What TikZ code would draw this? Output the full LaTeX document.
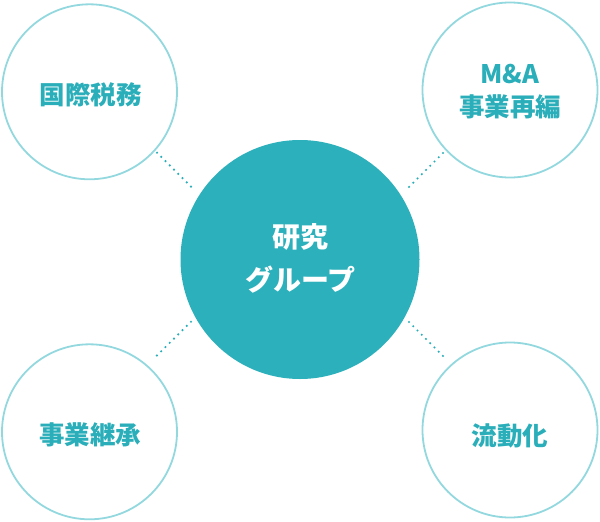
\documentclass[tikz,border=0pt]{standalone}
\usepackage{fontspec}
\setmainfont{Noto Sans CJK JP}
\definecolor{teal}{HTML}{2CB0BB}
\definecolor{ringc}{HTML}{93D8DE}
\definecolor{txtc}{HTML}{2AAEB9}
\begin{document}
\begin{tikzpicture}[x=1pt,y=-1pt,
  ring/.style={circle,draw=ringc,line width=1.8pt,minimum size=175pt,inner sep=0pt},
  hub/.style={circle,fill=teal,minimum size=239pt,inner sep=0pt},
  outertxt/.style={text=txtc,font=\fontsize{25.5}{33}\selectfont\bfseries,align=center,inner sep=0pt},
  hubtxt/.style={text=white,font=\fontsize{28}{43}\selectfont\bfseries,align=center,inner sep=0pt},
  dots/.style={draw=txtc,line width=2.4pt,line cap=round,dash pattern=on 0pt off 6pt}]
\useasboundingbox (0,0) rectangle (600,522);
\node[hub] (c) at (300,259.5) {};
\node[ring] (tl) at (89.5,91.8) {};
\node[ring] (tr) at (510,90) {};
\node[ring] (bl) at (89.5,431.8) {};
\node[ring] (br) at (510,430) {};
\node[hubtxt] (ct) at (300.5,258.5) {研究\\グループ};
\node[outertxt] (tlt) at (90.5,95) {国際税務};
\node[outertxt] (trt) at (510,91.5) {M\&A\\事業再編};
\node[outertxt] (blt) at (90,434.5) {事業継承};
\node[outertxt] (brt) at (510,436) {流動化};
\coordinate (d1a) at (157,152.7);
\coordinate (d1b) at (195,190.7);
\coordinate (d2a) at (443,153);
\coordinate (d2b) at (405,191);
\coordinate (d3a) at (409,322);
\coordinate (d3b) at (447,360);
\coordinate (d4a) at (191,321.7);
\coordinate (d4b) at (152.7,359.7);
\draw[dots] (d1a) -- (d1b);
\draw[dots] (d2a) -- (d2b);
\draw[dots] (d3a) -- (d3b);
\draw[dots] (d4a) -- (d4b);
\end{tikzpicture}
\end{document}
